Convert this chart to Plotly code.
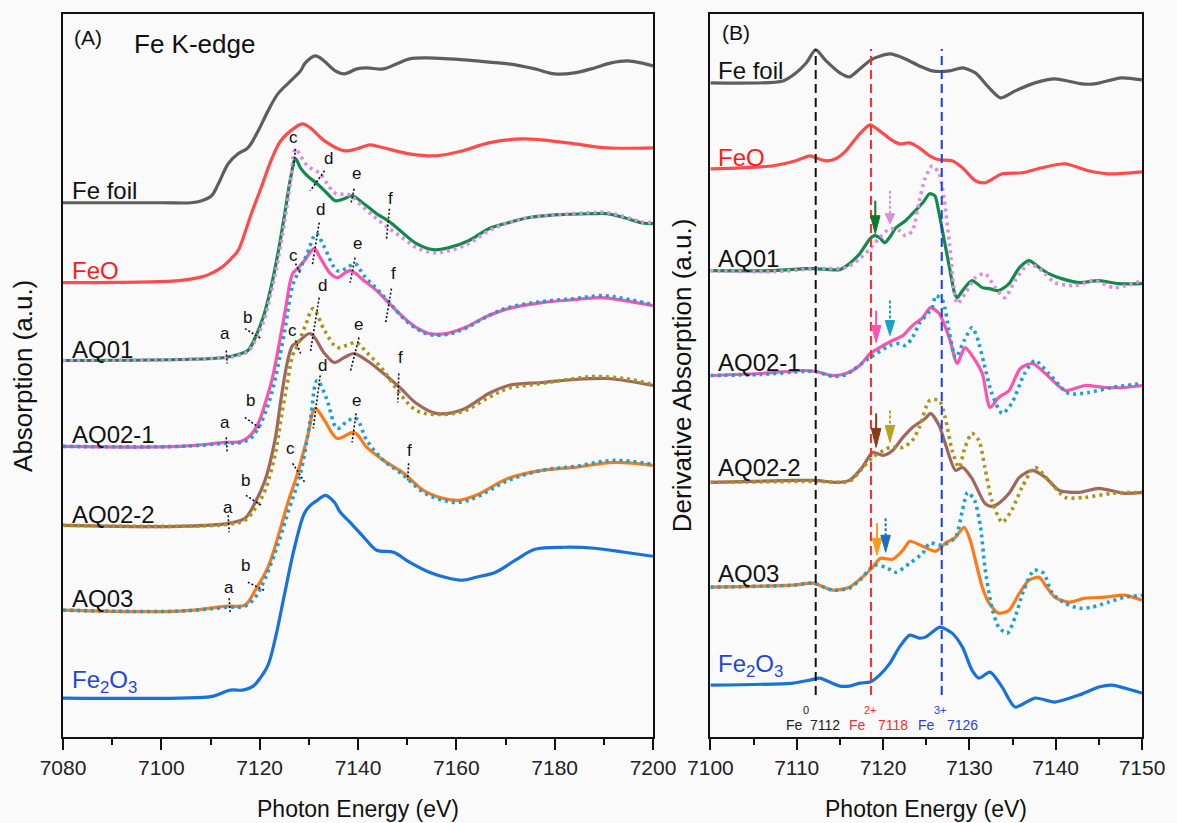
import plotly.graph_objects as go

FONT = "Liberation Sans, Arial, sans-serif"

# ================= Panel A : Fe K-edge XANES (stacked, a.u.) =================
feFoil_A_E = [7080, 7100, 7106, 7108.2, 7110.2, 7111.6, 7113.6, 7115.6, 7117.6, 7119.7, 7121.7, 7123.7,
              7126.3, 7128.3, 7129.3, 7131.3, 7133.1, 7135.4, 7137.2, 7139.8, 7141.8, 7145.2, 7147.8,
              7150.5, 7153.9, 7158.5, 7164, 7170.6, 7176, 7180, 7184, 7188.1, 7191.5, 7194.8, 7197.6, 7200]
feFoil_A = [535, 535, 535, 537, 542, 554, 574, 584, 590, 607, 627, 644, 657, 667, 675, 682, 677, 667, 664,
            669, 670, 669, 674, 679, 680, 679, 677, 674, 669, 664, 665, 670, 675, 677, 675, 672]

feO_A_E = [7080, 7103.6, 7107.6, 7109.6, 7112.2, 7114.2, 7115.6, 7117.0, 7118.3, 7120.3, 7122.3, 7124.3,
           7127.1, 7128.7, 7130.3, 7133.2, 7137.2, 7139.8, 7142.4, 7145.2, 7150.5, 7155.9, 7161.3, 7166.6,
           7173.4, 7177.4, 7184.1, 7190.7, 7200]
feO_A = [455, 457, 460, 463, 470, 479, 487, 505, 524, 550, 577, 597, 610, 614, 610, 597, 587, 589, 593, 590,
         584, 582, 587, 595, 599, 598, 594, 590, 590]

aq01_A_E = [7080, 7103.6, 7113, 7115.6, 7117.6, 7119.1, 7120.7, 7122.3, 7123.7, 7125.1, 7126.3, 7127.3,
            7128.3, 7129.7, 7131.7, 7133.8, 7135.4, 7137.2, 7138.8, 7141.2, 7143.8, 7146.4, 7149.3, 7151.9,
            7155.3, 7158.5, 7162.5, 7166.6, 7170.6, 7174.6, 7180.7, 7187.5, 7190.7, 7194.2, 7197.6, 7200]
aq01_A = [377, 378, 380, 383, 387, 400, 420, 450, 484, 524, 560, 579, 570, 562, 554, 544, 537, 539, 542, 534,
          524, 516, 504, 494, 488, 490, 497, 509, 515, 520, 523, 524, 524, 520, 515, 514]

aq01ref_A_E = [7080, 7103.6, 7113, 7115.6, 7117.6, 7119.1, 7120.7, 7122.3, 7123.7, 7125.1, 7126.3, 7127.3,
               7128.3, 7129.7, 7132.3, 7134.3, 7135.6, 7138.2, 7141.2, 7143.8, 7146.4, 7149.3, 7151.9, 7155.3,
               7158.5, 7162.5, 7166.6, 7170.6, 7174.6, 7180.7, 7187.5, 7190.7, 7194.2, 7197.6, 7200]
aq01ref_A = [377, 378, 380, 382, 386, 397, 415, 444, 477, 517, 557, 589, 582, 572, 564, 550, 544, 543, 530,
             519, 509, 499, 490, 485, 487, 494, 507, 515, 520, 523, 525, 525, 521, 516, 515]

aq021_A_E = [7080, 7103.6, 7113.0, 7116.2, 7118.1, 7119.7, 7121.3, 7122.7, 7125.1, 7126.7, 7127.7, 7129.1,
             7131.1, 7132.3, 7134.4, 7135.8, 7138.4, 7141.2, 7143.8, 7146.4, 7149.3, 7151.9, 7154.5, 7157.9,
             7161.3, 7166.6, 7170.6, 7177.4, 7184.1, 7189.5, 7194.2, 7200]
aq021_A = [291, 291, 295, 296, 302, 314, 337, 362, 424, 464, 469, 477, 489, 480, 464, 460, 467, 457, 447, 434,
           420, 410, 404, 404, 409, 422, 429, 435, 438, 440, 437, 432]

aq021ref_A_E = [7080, 7103.6, 7113.0, 7116.2, 7118.1, 7119.7, 7121.3, 7122.7, 7125.1, 7126.7, 7128.0, 7129.5,
                7131.5, 7133.0, 7135.8, 7137.5, 7139.4, 7141.2, 7143.8, 7146.4, 7149.3, 7151.9, 7154.5, 7157.9,
                7161.3, 7166.6, 7170.6, 7177.4, 7184.1, 7189.5, 7194.2, 7200]
aq021ref_A = [291, 291, 294, 295, 299, 309, 327, 349, 407, 452, 467, 482, 504, 492, 467, 469, 474, 462, 449,
              435, 419, 409, 403, 403, 408, 422, 430, 436, 439, 442, 439, 433]

aq022_A_E = [7080, 7103.6, 7113.6, 7117.0, 7119.1, 7121.1, 7123.1, 7124.3, 7125.7, 7126.7, 7127.7, 7130.3,
             7133.2, 7135.2, 7137.2, 7139.2, 7141.8, 7145.2, 7148.5, 7151.9, 7155.9, 7161.3, 7166.6, 7170.6,
             7177.4, 7184.1, 7190.7, 7194.2, 7200]
aq022_A = [212, 211, 214, 219, 235, 257, 297, 337, 377, 392, 395, 404, 384, 375, 380, 384, 377, 364, 350, 334,
           324, 328, 344, 352, 355, 358, 359, 357, 352]

aq022ref_A_E = [7080, 7103.6, 7113.6, 7117.0, 7119.1, 7121.1, 7123.1, 7124.3, 7125.7, 7126.7, 7127.7, 7129.3,
                7130.9, 7133.2, 7135.8, 7137.6, 7139.6, 7141.8, 7145.2, 7148.5, 7151.9, 7155.9, 7161.3, 7166.6,
                7170.6, 7177.4, 7184.1, 7188.1, 7194.2, 7200]
aq022ref_A = [212, 211, 213, 217, 229, 247, 282, 317, 357, 382, 392, 412, 429, 407, 390, 392, 395, 385, 367,
              344, 327, 323, 326, 340, 349, 354, 359, 361, 359, 353]

aq03_A_E = [7080, 7103.6, 7113.6, 7117.0, 7119.1, 7121.7, 7123.7, 7125.7, 7127.7, 7129.7, 7131.3, 7133.2,
            7135.8, 7139.2, 7141.8, 7145.2, 7149.3, 7153.3, 7157.3, 7160.5, 7164.0, 7170.6, 7177.4, 7184.1,
            7192.1, 7200]
aq03_A = [127, 126, 131, 132, 147, 170, 200, 234, 264, 300, 329, 317, 299, 305, 290, 277, 264, 247, 239, 237,
          242, 259, 267, 270, 275, 272]

aq03ref_A_E = [7080, 7103.6, 7113.6, 7117.0, 7119.1, 7120.3, 7123.1, 7125.7, 7128.3, 7130.3, 7131.7, 7133.6,
               7135.8, 7138.0, 7139.6, 7141.8, 7145.2, 7149.3, 7153.3, 7157.3, 7160.5, 7164.0, 7170.6, 7177.4,
               7184.1, 7192.1, 7200]
aq03ref_A = [127, 126, 130, 131, 140, 150, 184, 224, 264, 317, 357, 339, 309, 317, 319, 297, 277, 262, 245,
             237, 235, 240, 257, 267, 271, 277, 273]

fe2o3_A_E = [7080, 7103.6, 7110.6, 7114, 7116.6, 7118.7, 7120.1, 7121.7, 7123.1, 7125.1, 7127.1, 7129.1,
             7130.3, 7131.7, 7133.4, 7135.2, 7136.4, 7138.4, 7141.2, 7143.8, 7147.2, 7150.5, 7154.5, 7158.5,
             7161.3, 7164, 7168, 7172, 7176, 7182.1, 7188.1, 7194.2, 7200]
fe2o3_A = [39, 39, 41, 47, 47, 51, 59, 72, 97, 144, 190, 224, 232, 237, 242, 235, 225, 215, 200, 187, 185, 175,
           165, 159, 157, 160, 165, 177, 188, 190, 189, 185, 181]

# ================= Panel B : first derivative (stacked, a.u.) =================
feFoil_B_E = [7100, 7108.4, 7109.9, 7111.1, 7112.2, 7113.4, 7115.0, 7116.1, 7117.3, 7118.8, 7120.8, 7122.6,
              7124.2, 7125.7, 7127.7, 7129.2, 7130.7, 7132.3, 7133.6, 7135.3, 7137.6, 7139.9, 7143.0, 7144.5,
              7147.6, 7150]
feFoil_B = [655, 657, 665, 675, 688, 677, 665, 661, 669, 679, 684, 679, 672, 667, 667, 670, 665, 650, 640, 647,
            655, 659, 654, 654, 660, 658]

feO_B_E = [7100, 7103.5, 7107.3, 7109.9, 7111.5, 7112.2, 7113.4, 7114.5, 7115.7, 7117.3, 7118.5, 7119.6,
           7120.8, 7121.9, 7123.1, 7124.2, 7125.4, 7126.5, 7128.0, 7129.2, 7130.7, 7131.8, 7133.8, 7136.1,
           7138.4, 7141.1, 7143.8, 7146.1, 7150]
feO_B = [569, 570, 572, 577, 582, 580, 577, 579, 587, 604, 613, 607, 599, 594, 595, 590, 582, 578, 577, 570,
         557, 555, 564, 565, 570, 574, 567, 564, 566]

aq01_B_E = [7100, 7107.3, 7111.1, 7112.2, 7115.0, 7116.1, 7117.3, 7118.5, 7119.0, 7119.6, 7120.2, 7120.9,
            7121.5, 7122.6, 7123.4, 7124.6, 7125.4, 7126.0, 7126.5, 7127.1, 7127.7, 7128.3, 7128.6, 7129.2,
            7130.3, 7131.5, 7132.3, 7133.4, 7134.6, 7135.8, 7136.9, 7138.1, 7139.2, 7140.7, 7142.7, 7145.0,
            7147.3, 7150]
aq01_B = [467, 467, 469, 469, 468, 474, 484, 499, 502, 500, 495, 502, 510, 517, 524, 535, 544, 542, 524, 497,
          470, 444, 440, 447, 457, 450, 449, 447, 454, 470, 477, 470, 464, 459, 455, 457, 454, 454]

aq01ref_B_E = [7100, 7107.3, 7112.2, 7115.7, 7117.3, 7118.5, 7119.6, 7120.8, 7121.9, 7122.6, 7123.4, 7124.2,
               7124.9, 7125.7, 7126.5, 7127.1, 7127.7, 7128.6, 7129.5, 7130.7, 7131.8, 7133.0, 7134.1, 7135.3,
               7136.9, 7138.4, 7139.9, 7142.2, 7144.5, 7146.8, 7150]
aq01ref_B = [467, 466, 469, 470, 479, 489, 500, 509, 507, 502, 507, 537, 560, 572, 564, 537, 494, 434, 444, 460,
             464, 450, 440, 457, 474, 467, 455, 452, 457, 450, 457]

aq021_B_E = [7100, 7105.8, 7110.7, 7112.2, 7114.2, 7115.7, 7117.3, 7118.5, 7119.6, 7121.1, 7122.3, 7123.4,
             7124.6, 7125.5, 7126.5, 7127.7, 7128.6, 7129.5, 7130.7, 7131.5, 7132.4, 7133.4, 7134.6, 7135.9,
             7137.3, 7138.8, 7141.1, 7143.4, 7145.7, 7148.0, 7150]
aq021_B = [362, 364, 367, 366, 362, 364, 372, 384, 390, 397, 402, 412, 420, 430, 424, 399, 374, 390, 377, 364,
           330, 340, 347, 369, 374, 364, 347, 352, 350, 350, 352]

aq021ref_B_E = [7100, 7105.8, 7110.7, 7112.2, 7114.2, 7115.7, 7118.5, 7120.8, 7121.9, 7122.6, 7123.4, 7124.2,
                7125.7, 7126.1, 7126.9, 7127.7, 7128.4, 7129.4, 7130.3, 7130.9, 7131.7, 7132.6, 7133.8, 7134.9,
                7136.4, 7137.6, 7139.2, 7141.5, 7143.8, 7146.5, 7150]
aq021ref_B = [362, 363, 366, 366, 361, 363, 380, 392, 394, 392, 400, 414, 430, 442, 437, 404, 380, 397, 410,
              400, 374, 344, 324, 334, 364, 377, 364, 344, 345, 350, 354]

aq022_B_E = [7100, 7109.6, 7112.2, 7114.5, 7116.1, 7117.6, 7118.8, 7120.0, 7121.1, 7122.3, 7123.4, 7124.9,
             7125.5, 7126.5, 7127.2, 7128.4, 7129.2, 7130.3, 7131.8, 7132.6, 7133.4, 7134.6, 7135.8, 7137.3,
             7138.8, 7140.4, 7142.7, 7145.0, 7148.0, 7150]
aq022_B = [255, 257, 257, 255, 257, 270, 285, 282, 287, 300, 310, 319, 324, 312, 294, 267, 270, 259, 234, 231,
           234, 244, 260, 267, 260, 247, 245, 249, 244, 245]

aq022ref_B_E = [7100, 7112.2, 7116.1, 7117.6, 7118.8, 7120.8, 7122.3, 7123.4, 7124.2, 7125.4, 7126.5, 7127.2,
                7128.0, 7128.8, 7129.5, 7130.3, 7131.1, 7131.8, 7132.6, 7133.8, 7134.9, 7136.1, 7137.6, 7139.2,
                7141.1, 7143.4, 7146.5, 7150]
aq022ref_B = [255, 256, 256, 269, 280, 290, 290, 297, 310, 337, 337, 320, 287, 270, 290, 304, 297, 270, 237,
              215, 227, 250, 270, 257, 240, 240, 244, 245]

aq03_B_E = [7100, 7109.6, 7111.9, 7114.2, 7116.1, 7117.6, 7118.8, 7119.7, 7121.1, 7122.3, 7123.1, 7124.6,
            7126.1, 7127.2, 7128.4, 7129.4, 7130.1, 7130.7, 7131.5, 7132.3, 7133.4, 7134.6, 7135.8, 7136.9,
            7138.1, 7138.8, 7139.9, 7141.5, 7143.4, 7145.7, 7148.0, 7150]
aq03_B = [150, 152, 154, 147, 150, 160, 170, 179, 178, 187, 196, 191, 186, 194, 200, 210, 197, 177, 150, 134,
          124, 127, 144, 157, 160, 152, 140, 135, 139, 140, 142, 137]

aq03ref_B_E = [7100, 7109.6, 7111.9, 7114.2, 7116.1, 7117.3, 7119.0, 7120.3, 7121.5, 7123.1, 7124.6, 7125.4,
               7126.9, 7128.4, 7129.2, 7129.8, 7130.6, 7131.3, 7131.8, 7132.6, 7133.4, 7134.4, 7135.3, 7136.3,
               7137.5, 7138.6, 7139.6, 7141.1, 7142.7, 7144.2, 7146.1, 7148.0, 7150]
aq03ref_B = [150, 152, 154, 147, 149, 157, 172, 170, 165, 174, 184, 194, 192, 200, 227, 245, 237, 210, 170, 130,
             110, 104, 120, 147, 167, 164, 144, 134, 129, 130, 135, 140, 142]

fe2o3_B_E = [7100, 7109.6, 7111.5, 7112.7, 7113.8, 7115.0, 7116.1, 7117.3, 7118.5, 7119.6, 7120.8, 7121.9,
             7123.1, 7124.2, 7124.9, 7125.7, 7126.6, 7128.0, 7129.2, 7130.3, 7131.1, 7132.4, 7133.8, 7135.3,
             7137.6, 7139.9, 7142.7, 7145.0, 7146.5, 7148.8, 7150]
fe2o3_B = [52, 54, 57, 59, 55, 51, 51, 54, 55, 62, 74, 90, 102, 99, 100, 105, 110, 104, 90, 67, 59, 65, 50, 30,
           39, 35, 42, 50, 52, 47, 44]

# reference edge energies (eV) marked in panel B
ref_lines = [7112.2, 7118.6, 7126.8]

# ---------------- colours ----------------
C_FOIL = "#5e5e5e"
C_FEO = "#ff4b4b"
C_AQ01 = "#138a4c"
C_AQ01R = "#d98ee0"
C_AQ021 = "#ff52ad"
C_CYAN = "#1ba0d6"
C_AQ022 = "#a0675f"
C_AQ022R = "#a8951a"
C_AQ03 = "#ff7a17"
C_FE2O3 = "#1872dc"

fig = go.Figure()

def add(E, v, color, dot, xa, ya, smooth):
    fig.add_trace(go.Scatter(
        x=E, y=v, mode="lines", xaxis=xa, yaxis=ya, hoverinfo="skip",
        line=dict(color=color, width=3.2 if not dot else 3.6,
                  dash="3px,4px" if dot else "solid", shape="spline", smoothing=smooth)))

panelA = [
    (feFoil_A_E, feFoil_A, C_FOIL, False), (feO_A_E, feO_A, C_FEO, False),
    (aq01_A_E, aq01_A, C_AQ01, False), (aq01ref_A_E, aq01ref_A, C_AQ01R, True),
    (aq021_A_E, aq021_A, C_AQ021, False), (aq021ref_A_E, aq021ref_A, C_CYAN, True),
    (aq022_A_E, aq022_A, C_AQ022, False), (aq022ref_A_E, aq022ref_A, C_AQ022R, True),
    (aq03_A_E, aq03_A, C_AQ03, False), (aq03ref_A_E, aq03ref_A, C_CYAN, True),
    (fe2o3_A_E, fe2o3_A, C_FE2O3, False),
]
for E, v, c, d in panelA:
    add(E, v, c, d, "x", "y", 1.0)

panelB = [
    (feFoil_B_E, feFoil_B, C_FOIL, False), (feO_B_E, feO_B, C_FEO, False),
    (aq01_B_E, aq01_B, C_AQ01, False), (aq01ref_B_E, aq01ref_B, C_AQ01R, True),
    (aq021_B_E, aq021_B, C_AQ021, False), (aq021ref_B_E, aq021ref_B, C_CYAN, True),
    (aq022_B_E, aq022_B, C_AQ022, False), (aq022ref_B_E, aq022ref_B, C_AQ022R, True),
    (aq03_B_E, aq03_B, C_AQ03, False), (aq03ref_B_E, aq03ref_B, C_CYAN, True),
    (fe2o3_B_E, fe2o3_B, C_FE2O3, False),
]
for E, v, c, d in panelB:
    add(E, v, c, d, "x2", "y2", 0.7)

shapes = []
annotations = []

def txt(x, y, s, size, color="#111", xref="x", yref="y", xanchor="center", yanchor="middle", angle=0):
    annotations.append(dict(x=x, y=y, xref=xref, yref=yref, text=s, showarrow=False, textangle=angle,
                            xanchor=xanchor, yanchor=yanchor, font=dict(size=size, color=color, family=FONT)))

# ---- panel A labels ----
txt(7081.8, 700, "(A)", 21, xanchor="left")
txt(7094.0, 694, "Fe K-edge", 26, xanchor="left")
for s, v, col in [("Fe foil", 547, "#111"), ("FeO", 467, "#ff1a1a"), ("AQ01", 388, "#111"),
                  ("AQ02-1", 303, "#111"), ("AQ02-2", 223, "#111"), ("AQ03", 139, "#111"),
                  ("Fe<sub>2</sub>O<sub>3</sub>", 56, "#1f46d6")]:
    txt(7081.4, v, s, 24, col, xanchor="left")

# feature letters a-f with short dotted markers (panel A)
features = [
    # letter, label (E, v), marker line (E0, v0, E1, v1)
    ("a", 7113.0, 404, 7113.2, 387, 7113.4, 374), ("b", 7117.6, 420, 7117.0, 409, 7120.3, 399),
    ("c", 7126.9, 600, 7127.3, 589, 7126.9, 572), ("d", 7134.0, 579, 7133.2, 567, 7130.3, 547),
    ("e", 7139.6, 564, 7139.2, 549, 7138.6, 535), ("f", 7146.6, 539, 7146.4, 529, 7145.8, 499),
    ("a", 7113.0, 315, 7113.2, 300, 7113.4, 285), ("b", 7118.1, 337, 7117.0, 320, 7120.1, 309),
    ("c", 7126.9, 482, 7127.3, 474, 7128.3, 464), ("d", 7132.3, 528, 7132.1, 515, 7130.7, 472),
    ("e", 7139.8, 494, 7139.4, 480, 7138.4, 455), ("f", 7147.2, 464, 7146.8, 449, 7145.6, 414),
    ("a", 7113.6, 230, 7113.6, 222, 7113.8, 205), ("b", 7117.2, 257, 7117.2, 242, 7120.3, 232),
    ("c", 7126.7, 407, 7127.3, 397, 7128.5, 382), ("d", 7132.7, 452, 7132.1, 440, 7130.3, 385),
    ("e", 7140.0, 413, 7140.2, 400, 7138.4, 365), ("f", 7148.7, 380, 7148.3, 364, 7148.1, 335),
    ("a", 7113.8, 150, 7113.8, 139, 7114.0, 124), ("b", 7117.2, 172, 7117.6, 155, 7120.9, 147),
    ("c", 7126.3, 289, 7126.7, 274, 7129.3, 254), ("d", 7132.7, 372, 7132.3, 362, 7130.9, 309),
    ("e", 7139.6, 337, 7139.6, 324, 7138.8, 295), ("f", 7150.5, 287, 7150.3, 274, 7150.1, 257),
]
for L, lx, lv, x0, y0, x1, y1 in features:
    txt(lx, lv, L, 17)
    shapes.append(dict(type="line", xref="x", yref="y", x0=x0, y0=y0, x1=x1, y1=y1,
                       line=dict(color="#111", width=1.6, dash="2px,2px")))

# ---- panel B labels ----
txt(7101.1, 705, "(B)", 21, xref="x2", yref="y2", xanchor="left")
for s, v, col in [("Fe foil", 667, "#111"), ("FeO", 580, "#ff1a1a"), ("AQ01", 479, "#111"),
                  ("AQ02-1", 375, "#111"), ("AQ02-2", 270, "#111"), ("AQ03", 164, "#111"),
                  ("Fe<sub>2</sub>O<sub>3</sub>", 72, "#1f46d6")]:
    txt(7100.6, v, s, 24, col, xref="x2", yref="y2", xanchor="left")

line_cols = ["#111111", "#ff2a2a", "#1a3fe0"]
for xv, c in zip(ref_lines, line_cols):
    shapes.append(dict(type="line", xref="x2", yref="y2", x0=xv, x1=xv, y0=42, y1=689,
                       line=dict(color=c, width=2, dash="9px,5px")))

for s, x, v, c, sz in [("Fe", 7109.8, 12, "#222", 14), ("0", 7111.1, 27, "#222", 11), ("7112", 7113.3, 12, "#222", 14),
                       ("Fe", 7117.0, 12, "#ff2a2a", 14), ("2+", 7118.6, 27, "#ff2a2a", 11), ("7118", 7121.1, 12, "#ff2a2a", 14),
                       ("Fe", 7125.0, 12, "#2a3fe0", 14), ("3+", 7126.6, 27, "#2a3fe0", 11), ("7126", 7129.2, 12, "#2a3fe0", 14)]:
    txt(x, v, s, sz, c, xref="x2", yref="y2")

# arrows marking the Fe2+ pre-edge feature (E, stem top, head base, tip, colour, dashed)
arrows = [
    (7119.1, 537, 522, 504, "#0b7a2c", False), (7120.8, 547, 524, 514, "#d98ee0", True),
    (7119.2, 427, 412, 395, "#ff52ad", False), (7120.8, 437, 417, 402, "#1aa2c8", True),
    (7119.2, 324, 309, 290, "#8a3a16", False), (7120.8, 327, 312, 295, "#b9a020", True),
    (7119.3, 214, 199, 182, "#ff9a1a", False), (7120.3, 219, 202, 185, "#1a6fc0", True),
]
hw = 0.55
for E, top, base, tip, c, dashed in arrows:
    shapes.append(dict(type="line", xref="x2", yref="y2", x0=E, x1=E, y0=top, y1=base,
                       line=dict(color=c, width=2, dash="3px,2px" if dashed else "solid")))
    shapes.append(dict(type="path", xref="x2", yref="y2",
                       path=f"M {E - hw},{base} L {E + hw},{base} L {E},{tip} Z",
                       fillcolor=c, line=dict(color=c, width=1)))

# axis titles
txt(-0.0376, 0.5, "Absorption (a.u.)", 26, xref="paper", yref="paper", angle=-90)
txt(0.5734, 0.5, "Derivative Absorption (a.u.)", 26, xref="paper", yref="paper", angle=-90)
txt(0.2734, -0.0994, "Photon Energy (eV)", 23, xref="paper", yref="paper")
txt(0.80, -0.0994, "Photon Energy (eV)", 23, xref="paper", yref="paper")

ax_common = dict(showgrid=False, zeroline=False, showline=True, linecolor="#111", linewidth=2, mirror=True)
xcommon = dict(ax_common, ticks="outside", ticklen=11, tickwidth=2, tickcolor="#111",
               tickfont=dict(size=21, color="#222", family=FONT))

fig.update_layout(
    width=1177, height=823, margin=dict(l=63, r=24, t=13, b=86),
    paper_bgcolor="#fafafa", plot_bgcolor="#fafafa", showlegend=False,
    font=dict(family=FONT, color="#111"),
    xaxis=dict(xcommon, domain=[0, 0.5468], range=[7080, 7200], tick0=7080, dtick=20, anchor="y",
               minor=dict(dtick=10, ticks="outside", ticklen=6, tickwidth=2, tickcolor="#111", showgrid=False)),
    yaxis=dict(ax_common, domain=[0, 1], range=[0, 724], showticklabels=False, ticks="", anchor="x"),
    xaxis2=dict(xcommon, domain=[0.6, 1], range=[7100, 7150], tick0=7100, dtick=10, anchor="y2",
                minor=dict(dtick=5, ticks="outside", ticklen=6, tickwidth=2, tickcolor="#111", showgrid=False)),
    yaxis2=dict(ax_common, domain=[0, 1], range=[0, 724], showticklabels=False, ticks="", anchor="x2"),
    shapes=shapes, annotations=annotations,
)

fig.write_html("out.html")
